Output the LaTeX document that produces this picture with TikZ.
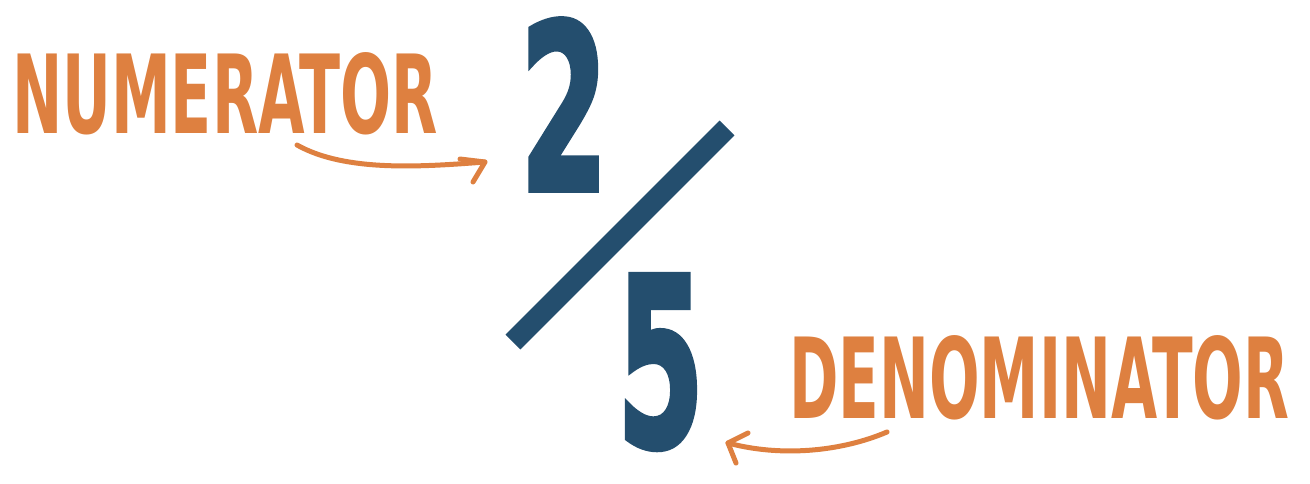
\documentclass[tikz,border=0pt]{standalone}
\usepackage{fontspec}
\usepackage{graphicx}
\newfontfamily\lblfont{DejaVu Sans Condensed}[BoldFont={* Bold}]
\newfontfamily\digfont{DejaVu Sans Condensed Bold}[FakeBold=2.5]
\definecolor{orng}{HTML}{DE8040}
\definecolor{navy}{HTML}{244E6E}
\tikzset{
  lbl/.style={inner sep=0pt, outer sep=0pt, text=orng, font=\lblfont\bfseries},
  digit/.style={inner sep=0pt, outer sep=0pt, text=navy, font=\digfont},
  curvy/.style={draw=orng, line width=5pt, line cap=round, line join=round},
}
\begin{document}
\begin{tikzpicture}[x=1pt,y=-1pt]
\useasboundingbox (0,0) rectangle (1310,483);
% labels
\node[lbl, anchor=base west] (num) at (12,133) {\resizebox{426pt}{81pt}{NUMERATOR}};
\node[lbl, anchor=base west] (den) at (789,418) {\resizebox{500pt}{83pt}{DENOMINATOR}};
% digits
\node[digit, anchor=base west] (two) at (520,190) {\resizebox{88pt}{171pt}{2}};
\node[digit, anchor=base west] (five) at (617,446) {\resizebox{87pt}{171pt}{5}};
% slash
\coordinate (s1) at (513,342);
\coordinate (s2) at (727,128);
\draw[navy, line width=21pt] (s1) -- (s2);
% numerator arrow
\coordinate (a1) at (297,145);
\coordinate (a2) at (485,162);
\draw[curvy] (a1) .. controls (345,172) and (420,167) .. (a2);
\draw[curvy] (460,159) -- (a2) -- (473,182);
% denominator arrow
\coordinate (b1) at (887,432);
\coordinate (b2) at (728,443);
\draw[curvy] (b1) .. controls (840,452) and (780,457) .. (b2);
\draw[curvy] (748,433) -- (b2) -- (736,463);
\end{tikzpicture}
\end{document}
